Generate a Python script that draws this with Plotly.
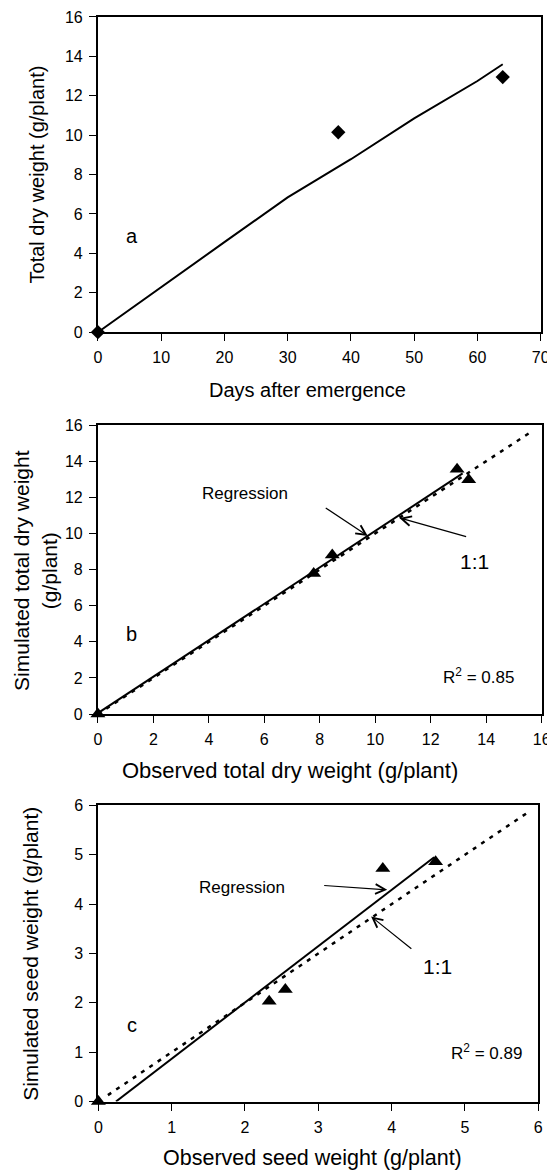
import plotly.graph_objects as go

# ---------------- data ----------------
# Panel a: total dry weight vs days after emergence
days_sim = [0, 10, 20, 30, 40, 50, 60, 64]
tdw_sim = [0, 2.3, 4.57, 6.84, 8.78, 10.85, 12.75, 13.6]
days_obs = [0, 38, 64]
tdw_obs = [0, 10.15, 12.95]

# Panel b: simulated vs observed total dry weight
obs_b = [0, 7.78, 8.45, 12.95, 13.37]
sim_b = [0, 7.78, 8.8, 13.55, 12.97]
reg_b_x = [0, 13.15]
reg_b_y = [0.05, 13.32]
one_b = [0, 15.7]

# Panel c: simulated vs observed seed weight
obs_c = [0, 2.33, 2.55, 3.88, 4.6]
sim_c = [0, 2.03, 2.27, 4.72, 4.86]
reg_c_x = [0.24, 4.58]
reg_c_y = [0, 4.95]
one_c = [0.13, 5.9]

ticks_a_x = list(range(0, 71, 10))
ticks_a_y = list(range(0, 17, 2))
ticks_b = list(range(0, 17, 2))
ticks_c = list(range(0, 7, 1))

FONT = "Liberation Sans, Arial, Helvetica, sans-serif"
BLACK = "black"

fig = go.Figure()

# panel a
fig.add_trace(go.Scatter(x=days_sim, y=tdw_sim, mode="lines",
                         line=dict(color=BLACK, width=2),
                         xaxis="x", yaxis="y", showlegend=False))
fig.add_trace(go.Scatter(x=days_obs, y=tdw_obs, mode="markers",
                         marker=dict(symbol="diamond", size=11, color=BLACK),
                         cliponaxis=False, xaxis="x", yaxis="y", showlegend=False))

# panel b
fig.add_trace(go.Scatter(x=one_b, y=one_b, mode="lines",
                         line=dict(color=BLACK, width=2.5, dash="4px,6px"),
                         xaxis="x2", yaxis="y2", showlegend=False))
fig.add_trace(go.Scatter(x=reg_b_x, y=reg_b_y, mode="lines",
                         line=dict(color=BLACK, width=2),
                         xaxis="x2", yaxis="y2", showlegend=False))
fig.add_trace(go.Scatter(x=obs_b, y=sim_b, mode="markers",
                         marker=dict(symbol="triangle-up", size=13, color=BLACK),
                         cliponaxis=False, xaxis="x2", yaxis="y2", showlegend=False))

# panel c
fig.add_trace(go.Scatter(x=one_c, y=one_c, mode="lines",
                         line=dict(color=BLACK, width=2.5, dash="4px,6px"),
                         xaxis="x3", yaxis="y3", showlegend=False))
fig.add_trace(go.Scatter(x=reg_c_x, y=reg_c_y, mode="lines",
                         line=dict(color=BLACK, width=2),
                         xaxis="x3", yaxis="y3", showlegend=False))
fig.add_trace(go.Scatter(x=obs_c, y=sim_c, mode="markers",
                         marker=dict(symbol="triangle-up", size=13, color=BLACK),
                         cliponaxis=False, xaxis="x3", yaxis="y3", showlegend=False))

W = 555.0
H = 1173.0
# empirical page placement: screen = S * (figure + offset)
S = 0.987
XOFF = 9.3
YOFF = 12.5


def fx(v):
    return v / S - XOFF


def fy(v):
    return v / S - YOFF


def px(v):
    return fx(v) / W


def py(v):
    return 1 - fy(v) / H


def xdom(left_line, right_line):
    return [(fx(left_line) + 1) / W, (fx(right_line) - 1) / W]


def ydom(top_line, bottom_line):
    top = max(fy(top_line) + 1, 1.0)
    return [1 - (fy(bottom_line) - 1) / H, 1 - top / H]


axis_common = dict(showline=True, linecolor=BLACK, linewidth=2, mirror=True,
                   ticks="outside", ticklen=7, tickwidth=1, tickcolor=BLACK,
                   showgrid=False, zeroline=False, ticklabeloverflow="allow",
                   ticklabelstandoff=3,
                   tickfont=dict(size=16, color=BLACK, family=FONT))

fig.update_layout(
    xaxis=dict(domain=xdom(95, 544.5), range=[0, 70], tickvals=ticks_a_x, anchor="y", **axis_common),
    yaxis=dict(domain=ydom(11.3, 330), range=[0, 16], tickvals=ticks_a_y, anchor="x", **axis_common),
    xaxis2=dict(domain=xdom(95, 545.5), range=[0, 16], tickvals=ticks_b, anchor="y2", **axis_common),
    yaxis2=dict(domain=ydom(421, 712.5), range=[0, 16], tickvals=ticks_b, anchor="x2", **axis_common),
    xaxis3=dict(domain=xdom(95.5, 542), range=[0, 6], tickvals=ticks_c, anchor="y3", **axis_common),
    yaxis3=dict(domain=ydom(802, 1100.5), range=[0, 6], tickvals=ticks_c, anchor="x3", **axis_common),
)

annotations = []


def txt(text, x, y, xref, yref, size, **kw):
    d = dict(text=text, x=x, y=y, xref=xref, yref=yref, showarrow=False,
             font=dict(size=size, color=BLACK, family=FONT),
             xanchor="center", yanchor="middle")
    d.update(kw)
    annotations.append(d)


def arrow(x, y, ax, ay, xref, yref):
    annotations.append(dict(text="", x=x, y=y, ax=ax, ay=ay, xref=xref, yref=yref,
                            axref=xref, ayref=yref, showarrow=True,
                            arrowhead=5, arrowsize=1.6, arrowwidth=1.2,
                            arrowcolor=BLACK, standoff=0, startstandoff=0))


# axis titles (placed as paper annotations)
txt("Days after emergence", px(308), py(387), "paper", "paper", 20)
txt("Total dry weight (g/plant)", px(34), py(171.5), "paper", "paper", 20, textangle=-90)
txt("Observed total dry weight (g/plant)", px(290), py(768), "paper", "paper", 22)
txt("Simulated total dry weight<br>(g/plant)", px(33), py(567.5), "paper", "paper", 21, textangle=-90)
txt("Observed seed weight (g/plant)", px(313), py(1156), "paper", "paper", 21.5)
txt("Simulated seed weight (g/plant)", px(28), py(952), "paper", "paper", 21, textangle=-90)

# panel labels and notes
txt("a", 5.35, 4.86, "x", "y", 20)
txt("b", 1.22, 4.44, "x2", "y2", 20)
txt("Regression", 5.32, 12.21, "x2", "y2", 17)
arrow(9.73, 9.86, 8.16, 11.47, "x2", "y2")
txt("1:1", 13.58, 8.42, "x2", "y2", 21)
arrow(10.87, 10.86, 13.33, 9.80, "x2", "y2")
txt("R<sup>2</sup> = 0.85", 13.71, 2.13, "x2", "y2", 17)

txt("c", 0.46, 1.55, "x3", "y3", 20)
txt("Regression", 1.96, 4.34, "x3", "y3", 17)
arrow(3.94, 4.29, 3.06, 4.38, "x3", "y3")
txt("1:1", 4.63, 2.74, "x3", "y3", 21)
arrow(3.72, 3.75, 4.29, 3.07, "x3", "y3")
txt("R<sup>2</sup> = 0.89", 5.30, 1.0, "x3", "y3", 17)

fig.update_layout(
    annotations=annotations,
    width=W, height=H,
    margin=dict(l=0, r=0, t=0, b=0),
    paper_bgcolor="white", plot_bgcolor="white",
    font=dict(family=FONT, color=BLACK),
    showlegend=False,
)

fig.write_html("out.html")
